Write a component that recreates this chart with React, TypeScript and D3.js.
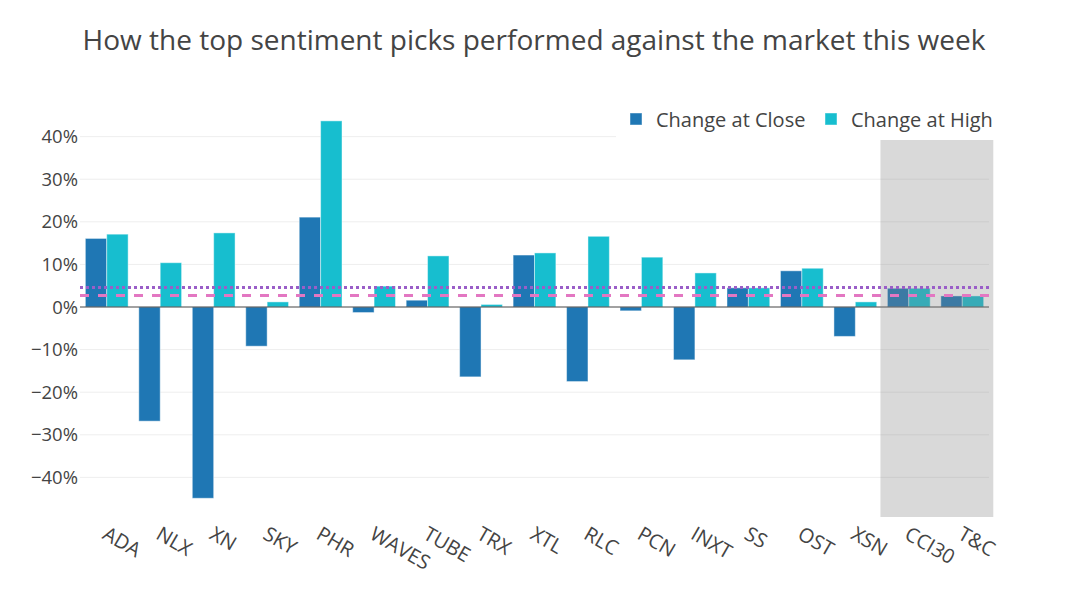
import * as d3 from "d3";
import { useEffect, useRef } from "react";

const tickers = ["ADA", "NLX", "XN", "SKY", "PHR", "WAVES", "TUBE", "TRX", "XTL", "RLC", "PCN", "INXT", "SS", "OST", "XSN", "CCI30", "T&C"];
const changeAtClose = [16.1, -26.8, -44.9, -9.2, 21.1, -1.3, 1.6, -16.4, 12.2, -17.5, -0.9, -12.4, 4.5, 8.5, -6.9, 4.4, 2.6];
const changeAtHigh = [17.1, 10.4, 17.4, 1.2, 43.7, 4.9, 12.0, 0.6, 12.7, 16.6, 11.7, 8.0, 4.5, 9.1, 1.2, 4.4, 2.6];
const yTicks = [-40, -30, -20, -10, 0, 10, 20, 30, 40];
const avgAtHigh = 4.6;
const avgAtClose = 2.7;
const benchmarks = ["CCI30", "T&C"];

const App = () => {
  const ref = useRef<SVGSVGElement>(null);

  useEffect(() => {
    const width = 1068, height = 600;
    const margin = { top: 100, right: 79, bottom: 83, left: 80 };
    const font = "'Open Sans', sans-serif";
    const textColor = "#444";

    const svg = d3.select(ref.current);
    svg.selectAll("*").remove();
    svg.attr("width", width).attr("height", height);

    const x = d3.scaleBand().domain(tickers).range([margin.left, width - margin.right]);
    const bw = x.bandwidth();
    const xSub = d3.scaleBand().domain(["close", "high"]).range([bw * 0.1, bw * 0.9]);
    const y = d3.scaleLinear().domain([-49.3, 48.6]).range([height - margin.bottom, margin.top]);
    // category index scale, for the shaded benchmark region
    const xi = d3.scaleLinear().domain([-0.5, tickers.length - 0.5]).range([margin.left, width - margin.right]);

    // title
    svg.append("text")
      .attr("x", 534).attr("y", 50)
      .attr("text-anchor", "middle")
      .style("font-family", font).style("font-size", "28px").attr("fill", textColor)
      .text("How the top sentiment picks performed against the market this week");

    // grid
    svg.append("g").selectAll("line").data(yTicks.filter((t) => t !== 0)).join("line")
      .attr("x1", margin.left).attr("x2", width - margin.right)
      .attr("y1", (d) => y(d)).attr("y2", (d) => y(d))
      .attr("stroke", "#eee").attr("stroke-width", 1);

    // y labels
    svg.append("g").selectAll("text").data(yTicks).join("text")
      .attr("x", 78).attr("y", (d) => y(d)).attr("dy", "0.36em")
      .attr("text-anchor", "end")
      .style("font-family", font).style("font-size", "18.5px").attr("fill", textColor)
      .text((d) => (d < 0 ? "\u2212" + Math.abs(d) : d) + "%");

    // bars
    const rows = tickers.map((t, i) => ({ t, close: changeAtClose[i], high: changeAtHigh[i] }));
    const g = svg.append("g");
    const series: [string, string][] = [["close", "#1f77b4"], ["high", "#17becf"]];
    series.forEach(([key, color]) => {
      g.selectAll("rect." + key).data(rows).join("rect")
        .attr("class", key)
        .attr("x", (d) => x(d.t)! + xSub(key)!)
        .attr("width", xSub.bandwidth())
        .attr("y", (d) => y(Math.max(0, d[key])))
        .attr("height", (d) => Math.abs(y(d[key]) - y(0)))
        .attr("fill", color)
        .attr("stroke", "rgba(255,255,255,0.45)")
        .attr("stroke-width", 1);
    });

    // zero line
    svg.append("line")
      .attr("x1", margin.left).attr("x2", width - margin.right)
      .attr("y1", y(0)).attr("y2", y(0))
      .attr("stroke", "#444").attr("stroke-width", 1);

    // benchmark shade
    const b0 = tickers.indexOf(benchmarks[0]);
    const b1 = tickers.indexOf(benchmarks[1]);
    svg.append("rect")
      .attr("x", xi(b0 - 0.53)).attr("width", xi(b1 + 0.58) - xi(b0 - 0.53))
      .attr("y", margin.top).attr("height", height - margin.bottom - margin.top)
      .attr("fill", "#808080").attr("opacity", 0.3);

    // average lines
    svg.append("line")
      .attr("x1", margin.left).attr("x2", width - margin.right)
      .attr("y1", y(avgAtHigh)).attr("y2", y(avgAtHigh))
      .attr("stroke", "#9a5ec8").attr("stroke-width", 3).attr("stroke-dasharray", "3,3");
    svg.append("line")
      .attr("x1", margin.left).attr("x2", width - margin.right)
      .attr("y1", y(avgAtClose)).attr("y2", y(avgAtClose))
      .attr("stroke", "#e377c2").attr("stroke-width", 3).attr("stroke-dasharray", "9,9");

    // x labels
    svg.append("g").selectAll("text").data(tickers).join("text")
      .attr("transform", (d) => `translate(${x(d)! + bw / 2 + 2},${height - margin.bottom + 8}) rotate(30)`)
      .attr("dy", "0.75em")
      .style("font-family", font).style("font-size", "20px").attr("fill", textColor)
      .text((d) => d);

    // legend
    const lg = svg.append("g");
    lg.append("rect").attr("x", 616).attr("y", 98).attr("width", 390).attr("height", 42).attr("fill", "#fff");
    const items: [string, string, number][] = [["Change at Close", "#1f77b4", 630], ["Change at High", "#17becf", 825]];
    items.forEach(([label, color, lx]) => {
      lg.append("rect").attr("x", lx).attr("y", 113).attr("width", 12).attr("height", 12)
        .attr("fill", color).attr("stroke", "rgba(255,255,255,0.45)").attr("stroke-width", 1);
      lg.append("text").attr("x", lx + 26).attr("y", 127)
        .style("font-family", font).style("font-size", "20px").attr("fill", textColor)
        .text(label);
    });
  }, []);

  return (
    <div style={{ position: "absolute", left: 0, top: 0, background: "#fff" }}>
      <svg ref={ref} width={1068} height={600} style={{ display: "block" }} />
    </div>
  );
};

export default App;
